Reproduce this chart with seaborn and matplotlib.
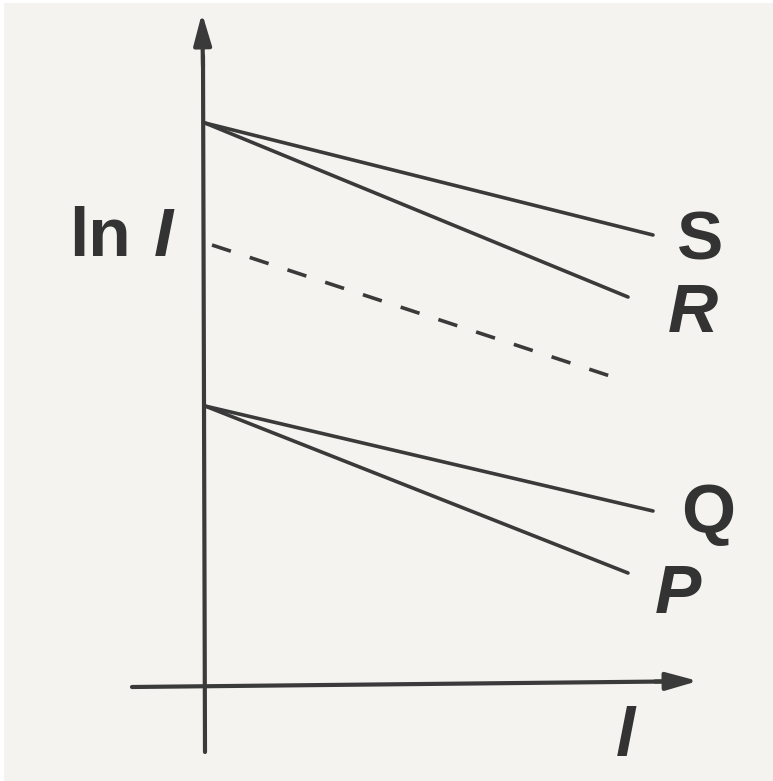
import numpy as np
import pandas as pd
import seaborn as sns
import matplotlib.pyplot as plt
from matplotlib.patches import Rectangle

# Path length l and ln I for each sample (arbitrary units)
l_start = [0.0, 0.0, 0.0, 0.0]
l_end_SQ = 4.48
l_end_RP = 4.23
series = ["S", "R", "Q", "P"]
lnI_start = [5.63, 5.63, 2.80, 2.80]
lnI_end = [4.51, 3.89, 1.75, 1.13]
l_end = [l_end_SQ, l_end_RP, l_end_SQ, l_end_RP]

# Reference (dashed) line
ref_l = [0.07, 4.08]
ref_lnI = [4.41, 3.09]

# Label positions next to line ends
label_x = [4.95, 4.88, 5.03, 4.73]
label_y = [4.27, 3.54, 1.54, 0.73]
label_style = ["normal", "italic", "normal", "italic"]

rows = []
for name, l0, l1, y0, y1 in zip(series, l_start, l_end, lnI_start, lnI_end):
    rows.append({"series": name, "l": l0, "lnI": y0})
    rows.append({"series": name, "l": l1, "lnI": y1})
df = pd.DataFrame(rows)
ref_df = pd.DataFrame({"l": ref_l, "lnI": ref_lnI})

sns.set_theme(style="white")
plt.rcParams["font.family"] = ["Liberation Sans", "DejaVu Sans"]

bg = "#f4f3ef"
ink = "#3a3a3a"
text_ink = "#333333"

fig = plt.figure(figsize=(7.73, 7.81), dpi=100, facecolor=bg)
ax = fig.add_axes([0, 0, 1, 1])
ax.set_facecolor(bg)
ax.set_axis_off()

# thin white margin on the left and top
fig.patches.append(Rectangle((0, 0), 4 / 773, 1, transform=fig.transFigure,
                             facecolor="white", edgecolor="none", zorder=10))
fig.patches.append(Rectangle((0, 1 - 3 / 781), 1, 3 / 781, transform=fig.transFigure,
                             facecolor="white", edgecolor="none", zorder=10))

# axes with arrow heads
ax.plot([0.0, -0.02], [-0.66, 6.3], color=ink, lw=3.0, solid_capstyle="round")
ax.annotate("", xy=(-0.03, 6.73), xytext=(-0.02, 6.2),
            arrowprops=dict(arrowstyle="-|>,head_length=1.6,head_width=0.45",
                            color=ink, lw=3.0, shrinkA=0, shrinkB=0))
ax.plot([-0.73, 4.6], [-0.01, 0.045], color=ink, lw=3.0, solid_capstyle="round")
ax.annotate("", xy=(4.93, 0.05), xytext=(4.5, 0.045),
            arrowprops=dict(arrowstyle="-|>,head_length=1.6,head_width=0.45",
                            color=ink, lw=3.0, shrinkA=0, shrinkB=0))

# sample lines
for name in series:
    sub = df[df["series"] == name]
    sns.lineplot(data=sub, x="l", y="lnI", ax=ax, color=ink, linewidth=2.6,
                 legend=False, sort=False)

sns.lineplot(data=ref_df, x="l", y="lnI", ax=ax, color=ink, linewidth=2.6,
             linestyle=(0, (5.5, 5.5)), legend=False, sort=False)
ax.set_xlabel("")
ax.set_ylabel("")
ax.set_xlim(-2.05, 5.68)
ax.set_ylim(-0.95, 6.86)

for name, x, y, st in zip(series, label_x, label_y, label_style):
    ax.text(x, y, name, ha="center", va="baseline", fontsize=50,
            fontstyle=st, fontweight="bold", color=text_ink)

ax.text(-1.05, 4.30, "ln", ha="center", va="baseline", fontsize=50,
        fontweight="bold", color=text_ink)
ax.text(-0.42, 4.30, "I", ha="center", va="baseline", fontsize=50,
        fontstyle="italic", fontweight="bold", color=text_ink)
ax.text(4.20, -0.70, "l", ha="center", va="baseline", fontsize=50,
        fontstyle="italic", fontweight="bold", color=text_ink)

fig.savefig("out.png", dpi=100, facecolor=bg)
